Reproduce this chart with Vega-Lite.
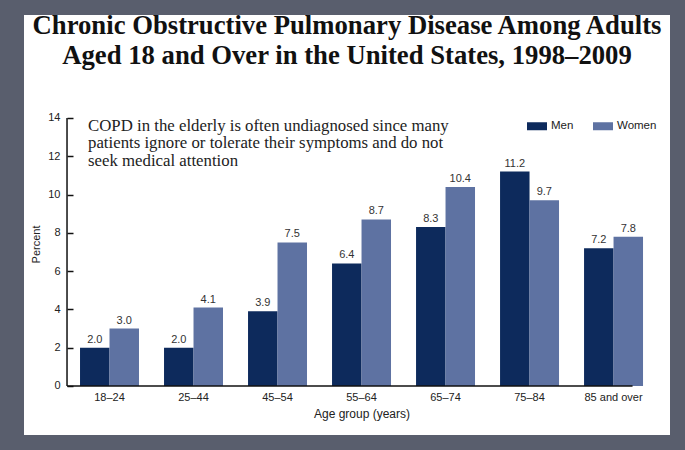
{
  "$schema": "https://vega.github.io/schema/vega-lite/v6.json",
  "width": 646,
  "height": 420,
  "autosize": {"type": "none"},
  "padding": {"left": 24, "top": 15, "right": 15, "bottom": 15},
  "background": "#595e6d",
  "config": {
    "view": {"fill": "white", "stroke": null},
    "font": "Liberation Sans"
  },
  "title": {
    "text": [
      "Chronic Obstructive Pulmonary Disease Among Adults",
      "Aged 18 and Over in the United States, 1998–2009"
    ],
    "font": "Liberation Serif",
    "fontSize": 26.7,
    "fontWeight": "bold",
    "color": "#111111",
    "anchor": "middle",
    "frame": "group",
    "lineHeight": 30,
    "offset": -55
  },
  "data": {
    "values": [
      {"age": "18–24", "sex": "Men", "pct": 2.0},
      {"age": "18–24", "sex": "Women", "pct": 3.0},
      {"age": "25–44", "sex": "Men", "pct": 2.0},
      {"age": "25–44", "sex": "Women", "pct": 4.1},
      {"age": "45–54", "sex": "Men", "pct": 3.9},
      {"age": "45–54", "sex": "Women", "pct": 7.5},
      {"age": "55–64", "sex": "Men", "pct": 6.4},
      {"age": "55–64", "sex": "Women", "pct": 8.7},
      {"age": "65–74", "sex": "Men", "pct": 8.3},
      {"age": "65–74", "sex": "Women", "pct": 10.4},
      {"age": "75–84", "sex": "Men", "pct": 11.2},
      {"age": "75–84", "sex": "Women", "pct": 9.7},
      {"age": "85 and over", "sex": "Men", "pct": 7.2},
      {"age": "85 and over", "sex": "Women", "pct": 7.8}
    ]
  },
  "layer": [
    {
      "mark": {"type": "bar"},
      "encoding": {
        "x": {
          "field": "age",
          "type": "nominal",
          "sort": ["18–24", "25–44", "45–54", "55–64", "65–74", "75–84", "85 and over"],
          "scale": {"paddingInner": 0.298, "paddingOuter": 0.494, "align": 0.675},
          "axis": {
            "orient": "bottom",
            "offset": -49,
            "domain": false,
            "ticks": false,
            "labelAngle": 0,
            "labelPadding": 5,
            "labelFontSize": 11,
            "labelColor": "#222222",
            "title": "Age group (years)",
            "titleFontSize": 12,
            "titleFontWeight": "normal",
            "titleColor": "#222222",
            "titlePadding": 6,
            "titleX": 337.5
          }
        },
        "xOffset": {
          "field": "sex",
          "type": "nominal",
          "sort": ["Men", "Women"],
          "scale": {"paddingInner": 0, "paddingOuter": 0}
        },
        "y": {
          "field": "pct",
          "type": "quantitative",
          "scale": {"domain": [-2.56, 19.38], "nice": false, "zero": false},
          "axis": {
            "orient": "left",
            "offset": -43,
            "values": [0, 2, 4, 6, 8, 10, 12, 14],
            "domain": false,
            "grid": false,
            "tickSize": -6,
            "tickWidth": 1.5,
            "tickColor": "#111111",
            "labelFontSize": 11,
            "labelColor": "#222222",
            "labelPadding": 13,
            "title": "Percent",
            "titleFontSize": 11,
            "titleFontWeight": "normal",
            "titleColor": "#222222",
            "titleX": -26,
            "titleY": 229
          }
        },
        "color": {
          "field": "sex",
          "type": "nominal",
          "scale": {"domain": ["Men", "Women"], "range": ["#0d2a5c", "#5e72a2"]},
          "legend": {
            "orient": "none",
            "legendX": 503,
            "legendY": 101,
            "direction": "horizontal",
            "title": null,
            "symbolType": "M-1,-0.4H1V0.4H-1Z",
            "symbolSize": 400,
            "symbolStrokeWidth": 0,
            "labelFontSize": 11.5,
            "labelColor": "#222222",
            "labelOffset": 4,
            "columnPadding": 19
          }
        }
      }
    },
    {
      "mark": {"type": "text", "baseline": "bottom", "dy": -3, "fontSize": 11, "color": "#333333"},
      "encoding": {
        "x": {"field": "age", "type": "nominal", "sort": ["18–24", "25–44", "45–54", "55–64", "65–74", "75–84", "85 and over"]},
        "xOffset": {"field": "sex", "type": "nominal", "sort": ["Men", "Women"]},
        "y": {"field": "pct", "type": "quantitative"},
        "text": {"field": "pct", "type": "quantitative", "format": ".1f"}
      }
    },
    {
      "data": {"values": [{"note": "axis"}]},
      "mark": {"type": "rule", "color": "#111111", "strokeWidth": 1.5, "xOffset": -13},
      "encoding": {
        "x": {"datum": "18–24", "bandPosition": 0},
        "y": {"datum": 0},
        "y2": {"datum": 14}
      }
    },
    {
      "data": {"values": [{"note": "axis"}]},
      "mark": {"type": "rule", "color": "#111111", "strokeWidth": 1.5, "xOffset": -13, "x2Offset": 19},
      "encoding": {
        "x": {"datum": "18–24", "bandPosition": 0},
        "x2": {"datum": "85 and over"},
        "y": {"datum": 0}
      }
    },
    {
      "data": {"values": [{"note": "COPD in the elderly is often undiagnosed since many\npatients ignore or tolerate their symptoms and do not\nseek medical attention"}]},
      "mark": {
        "type": "text",
        "align": "left",
        "baseline": "alphabetic",
        "font": "Liberation Serif",
        "fontSize": 16.8,
        "lineHeight": 17.5,
        "lineBreak": "\n",
        "color": "#222222",
        "xOffset": 8,
        "dy": 13
      },
      "encoding": {
        "x": {"datum": "18–24", "bandPosition": 0},
        "y": {"datum": 14},
        "text": {"field": "note"}
      }
    }
  ]
}
